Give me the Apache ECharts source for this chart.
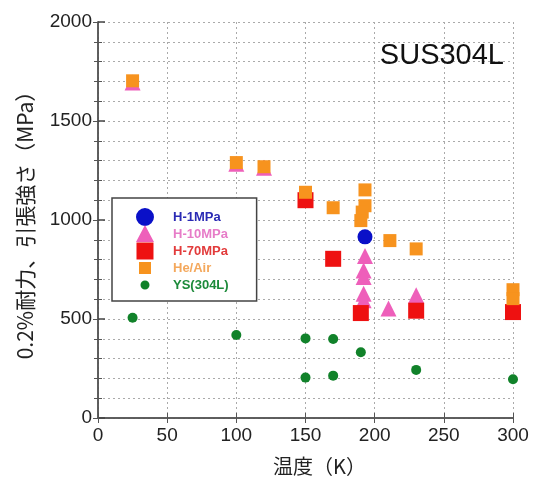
<!DOCTYPE html>
<html>
<head>
<meta charset="utf-8">
<script src="https://cdn.jsdelivr.net/npm/echarts@6/dist/echarts.min.js"></script>
<style>
  html, body { margin: 0; padding: 0; background: #fff; }
  #chart { width: 534px; height: 481px; }
</style>
</head>
<body>
<div id="chart"></div>
<script>
// temperatures (K) and strengths (MPa)
var h1Temp = [193]
var h1Val = [915]
var h10Temp = [25, 100, 120, 193, 192, 192, 192, 192, 210, 230]
var h10Val = [1695, 1284, 1264, 818, 745, 712, 628, 595, 553, 620]
var h70Temp = [150, 170, 190, 230, 300]
var h70Val = [1100, 804, 530, 542, 535]
var heTemp = [25, 100, 120, 150, 170, 193, 193, 191, 190, 211, 230, 300, 300]
var heVal = [1703, 1290, 1269, 1140, 1062, 1152, 1072, 1040, 997, 896, 854, 648, 603]
var ysTemp = [25, 100, 150, 170, 190, 150, 170, 230, 300]
var ysVal = [506, 419, 402, 399, 332, 204, 214, 243, 196]
var seriesNames = ['H-1MPa', 'H-10MPa', 'H-70MPa', 'He/Air', 'YS(304L)']
var xTicks = [0, 50, 100, 150, 200, 250, 300]
var yTicks = [0, 500, 1000, 1500, 2000]

function pairs(xs, ys) {
  return xs.map(function (x, i) { return [x, ys[i]] })
}

// legend icons padded to an 18x18 box so they keep their own size
var box = 'path://M0 0L0.01 0M18 18L18 18.01'
var icons = {
  circle: box + 'M9 0A9 9 0 1 1 9 18A9 9 0 1 1 9 0Z',
  triangle: box + 'M9 0L18 17L0 17Z',
  square: box + 'M0.5 0.5H17.5V17.5H0.5Z',
  small: box + 'M3 3H15V15H3Z',
  dot: box + 'M9 4.5A4.5 4.5 0 1 1 9 13.5A4.5 4.5 0 1 1 9 4.5Z'
}

var chart = echarts.init(document.getElementById('chart'))
var gridLine = { show: true, lineStyle: { color: '#aaa', type: [2, 3], width: 1 } }
var numFont = { fontFamily: 'Liberation Sans', fontSize: 19, color: '#222' }
var frame = { show: true, lineStyle: { color: '#555', width: 1.5 } }

chart.setOption({
  backgroundColor: '#fff',
  animation: false,
  title: {
    text: 'SUS304L',
    right: 30,
    top: 41,
    padding: 0,
    textStyle: { fontFamily: 'Liberation Sans', fontSize: 29, fontWeight: 'normal', color: '#111' }
  },
  grid: { left: 98, right: 21, top: 22, bottom: 61 },
  legend: {
    orient: 'vertical',
    left: 112,
    top: 198,
    padding: [10, 28, 7, 24],
    itemWidth: 18,
    itemHeight: 18,
    itemGap: -1,
    borderColor: '#444',
    borderWidth: 1.5,
    backgroundColor: '#fff',
    data: [
      { name: seriesNames[0], icon: icons.circle, textStyle: { color: '#2a2ab4' } },
      { name: seriesNames[1], icon: icons.triangle, textStyle: { color: '#e77cc8' } },
      { name: seriesNames[2], icon: icons.square, textStyle: { color: '#e23b3b' } },
      { name: seriesNames[3], icon: icons.small, textStyle: { color: '#f4a85c' } },
      { name: seriesNames[4], icon: icons.dot, textStyle: { color: '#1c8a3a' } }
    ],
    textStyle: { fontFamily: 'Liberation Sans', fontSize: 13, fontWeight: 'bold', padding: [0, 0, 0, 14] }
  },
  xAxis: [{
    type: 'value',
    min: xTicks[0],
    max: xTicks[xTicks.length - 1],
    interval: 50,
    position: 'bottom',
    name: '温度（K）',
    nameLocation: 'middle',
    nameGap: 38,
    nameTextStyle: { fontFamily: 'Noto Sans CJK JP', fontSize: 20, color: '#222', padding: [0, 0, 0, 28] },
    axisLine: frame,
    axisTick: { inside: true, length: 5, lineStyle: { color: '#555' } },
    axisLabel: Object.assign({ margin: 8 }, numFont),
    splitLine: gridLine
  }, {
    type: 'value',
    min: xTicks[0],
    max: xTicks[xTicks.length - 1],
    interval: 50,
    position: 'top',
    axisLine: frame,
    axisTick: { inside: true, length: 5, lineStyle: { color: '#555' } },
    axisLabel: { show: false },
    splitLine: { show: false }
  }],
  yAxis: [{
    type: 'value',
    min: yTicks[0],
    max: yTicks[yTicks.length - 1],
    interval: 500,
    position: 'left',
    name: '0.2%耐力、引張強さ（MPa）',
    nameLocation: 'middle',
    nameGap: 62,
    nameTextStyle: { fontFamily: 'Noto Sans CJK JP', fontSize: 21, color: '#222' },
    axisLine: frame,
    axisTick: { inside: true, length: 7, lineStyle: { color: '#444', width: 1.5 } },
    minorTick: { show: true, splitNumber: 5, length: 4, lineStyle: { color: '#555' } },
    axisLabel: Object.assign({ margin: 6, formatter: function (v) { return String(v) } }, numFont),
    splitLine: gridLine,
    minorSplitLine: gridLine
  }, {
    type: 'value',
    min: yTicks[0],
    max: yTicks[yTicks.length - 1],
    interval: 500,
    position: 'right',
    axisLine: frame,
    axisTick: { inside: true, length: 5, lineStyle: { color: '#555' } },
    minorTick: { show: true, splitNumber: 5, length: 4, lineStyle: { color: '#555' } },
    axisLabel: { show: false },
    splitLine: { show: false }
  }],
  series: [{
    name: 'YS(304L)', type: 'scatter', symbol: 'circle', symbolSize: 10,
    itemStyle: { color: '#11822a', opacity: 1 },
    data: pairs(ysTemp, ysVal)
  }, {
    name: 'H-1MPa', type: 'scatter', symbol: 'circle', symbolSize: 15,
    itemStyle: { color: '#0a10c8', opacity: 1 },
    data: pairs(h1Temp, h1Val)
  }, {
    name: 'H-10MPa', type: 'scatter', symbol: 'triangle', symbolSize: 16,
    itemStyle: { color: '#ee5fba', opacity: 1 },
    data: pairs(h10Temp, h10Val)
  }, {
    name: 'H-70MPa', type: 'scatter', symbol: 'rect', symbolSize: 16,
    itemStyle: { color: '#ee1111', opacity: 1 },
    data: pairs(h70Temp, h70Val)
  }, {
    name: 'He/Air', type: 'scatter', symbol: 'rect', symbolSize: 13,
    itemStyle: { color: '#f7931e', opacity: 1 },
    data: pairs(heTemp, heVal)
  }]
})
</script>
</body>
</html>
